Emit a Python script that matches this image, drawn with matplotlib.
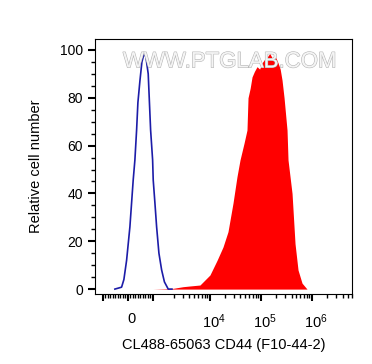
import matplotlib
matplotlib.use('Agg')
import matplotlib.pyplot as plt
import matplotlib.patheffects as pe
import matplotlib.transforms as mtransforms
from matplotlib.ticker import FixedLocator, FixedFormatter

# isotype control, blue outline (x in fluorescence units, y in % of max)
ctrl_x = [-520, -252, -160, -52, 80, 212, 280, 348, 400, 480, 560, 652, 720, 812,
          908, 988, 1012, 1080, 1148, 1240, 1348, 1460, 1612, 1820]
ctrl_y = [0, 0.8, 4, 12, 26, 45.6, 54, 66.5, 78, 87, 95, 98.7, 97, 90,
          66.5, 54, 45.6, 36, 26, 15, 8, 3, 0, 0]

# CD44 stained sample, red filled
cd44_x = [1000, 1904, 3000, 4100, 6440, 10100, 13900, 18200, 22800, 28600, 34200, 39200,
          47000, 53700, 56300, 62000, 67400, 75000, 84500, 95000, 106000, 118000, 132600,
          150000, 174000, 195000, 218000, 240000, 261000, 286000, 327000, 342000, 410000,
          469000, 537000, 643000, 806000]
cd44_y = [0, 0.3, 1.0, 1.3, 1.7, 5.9, 12, 17.6, 24, 36, 47, 54,
          61, 66.5, 80, 84, 88.7, 91, 93, 92, 94.6, 96, 97,
          98.5, 96, 97, 94.6, 92, 87.4, 80, 66.5, 54, 40,
          19, 8, 2.5, 0]

xticks_major = [-1000, 0, 1000, 1e4, 1e5, 1e6]
xtick_labels = ['', '0', '', r'$\mathregular{10^4}$', r'$\mathregular{10^5}$', r'$\mathregular{10^6}$']
yticks_major = [0, 20, 40, 60, 80, 100]

plt.rcParams['font.family'] = ['Liberation Sans', 'DejaVu Sans']
plt.rcParams['mathtext.default'] = 'regular'

fig = plt.figure(figsize=(3.72, 3.64), dpi=100)
ax = fig.add_axes([0.255, 0.192, 0.691, 0.701])

# biex-like axis, linear around zero
ax.set_xscale('symlog', linthresh=1700, linscale=0.75)
ax.set_xlim(-1320, 6.1e6)
ax.set_ylim(-2.1, 104.6)

ax.fill_between(cd44_x, cd44_y, 0, color='#ff0000', lw=0)
ax.plot(ctrl_x, ctrl_y, color='#1c1ca8', lw=1.2)

# minor ticks: linear near zero, log per decade above
minor = [s * m for s in (-1, 1) for m in range(100, 1000, 100)]
for d in range(3, 7):
    minor += [m * 10 ** d for m in range(2, 10)]
minor = [v for v in minor if -1320 < v < 6.1e6 and v not in xticks_major]

ax.xaxis.set_major_locator(FixedLocator(xticks_major))
ax.xaxis.set_major_formatter(FixedFormatter(xtick_labels))
ax.xaxis.set_minor_locator(FixedLocator(minor))
ax.set_yticks(yticks_major)
ax.yaxis.set_minor_locator(FixedLocator(range(5, 100, 5)))

ax.tick_params(which='major', direction='out', length=5, width=1.5, labelsize=10)
ax.tick_params(which='minor', direction='out', length=3, width=1)
ax.tick_params(axis='x', which='major', pad=8, labelsize=10.5)

# labels sit a little right of their ticks in the original
shift = mtransforms.ScaledTranslation(0.04, 0, fig.dpi_scale_trans)
for lbl in ax.get_xticklabels():
    lbl.set_transform(lbl.get_transform() + shift)

ax.set_xlabel('CL488-65063 CD44 (F10-44-2)', fontsize=10.5, labelpad=5)
ax.set_ylabel('Relative cell number', fontsize=10.5, labelpad=12)

# watermark
ax.text(0.525, 0.91, 'WWW.PTGLAB.COM', transform=ax.transAxes, ha='center', va='center',
        fontsize=16, color='#f4f4f4',
        path_effects=[pe.withStroke(linewidth=0.8, foreground='#b4b4b4')])

fig.savefig('out.png', dpi=100)
